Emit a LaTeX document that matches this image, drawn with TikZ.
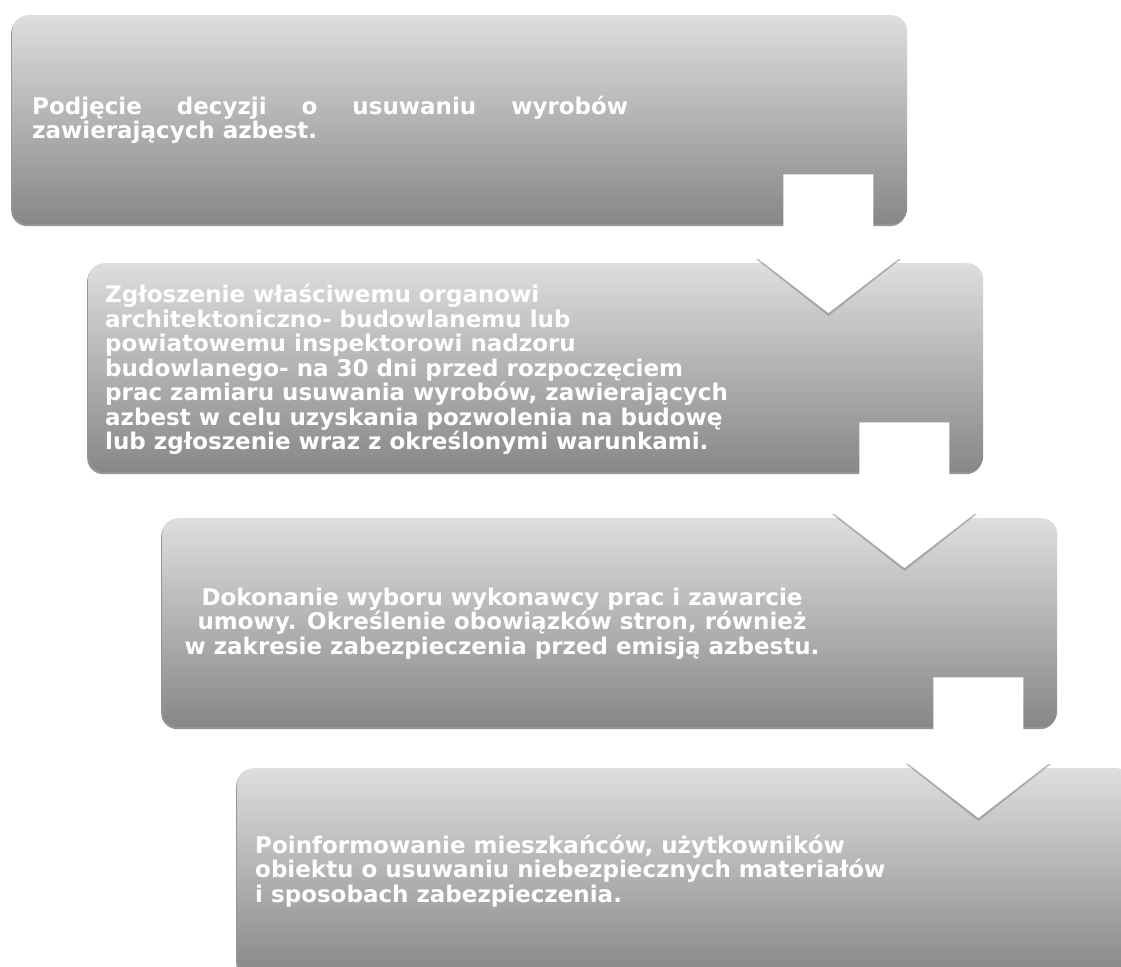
\documentclass[tikz,border=0pt]{standalone}
\usepackage{fontspec}
\setmainfont{DejaVu Sans}
\usetikzlibrary{calc,shadows}
\tikzset{
  stepbox/.style={rounded corners=16pt, top color=black!13, bottom color=black!47,
    minimum width=895pt, minimum height=209pt, anchor=north west, inner sep=0pt,
    draw=none, drop shadow={shadow xshift=-1pt, shadow yshift=-2pt, fill=black!75, opacity=0.55}},
  steptext/.style={text=white, font=\bfseries\fontsize{23}{24.5}\selectfont,
    inner sep=0pt, align=left, anchor=west},
  arrowshade/.style={fill=black!45, opacity=0.6},
  arrowbody/.style={fill=white},
}
\newcommand\steparrow[2]{%
  \coordinate (#1-ax) at ($(#1.south east)+(-79,0)$);
  \coordinate (#1-ch) at ($(#1-ax |- #2.north)+(0,-6)$);
  \fill[arrowshade] ($(#1-ch)+(-72.5,2)$) -- ($(#1-ch)+(0,59)$) -- ($(#1-ch)+(72.5,2)$) -- cycle;
  \fill[arrowbody] ($(#1-ax)+(-45,-50)$) -- ($(#1-ax)+(45,-50)$) -- ($(#1-ch)+(45,0)$)
    -- ($(#1-ch)+(72.5,0)$) -- ($(#1-ch)+(0,56)$) -- ($(#1-ch)+(-72.5,0)$)
    -- ($(#1-ch)+(-45,0)$) -- cycle;
}
\begin{document}
\begin{tikzpicture}[x=1pt,y=-1pt]
\clip (0,0) rectangle (1121,966);
\fill[white] (0,0) rectangle (1121,966);
\node[stepbox] (b1) at (12,15) {};
\node[stepbox] (b2) at (88,263) {};
\node[stepbox] (b3) at (162,518) {};
\node[stepbox] (b4) at (237,768) {};
\steparrow{b1}{b2}
\steparrow{b2}{b3}
\steparrow{b3}{b4}
\node[steptext] (t1) at ($(b1.west)+(20,0)$)
  {\makebox[596pt][s]{Podjęcie decyzji o usuwaniu wyrobów}\\zawierających azbest.};
\node[steptext] (t2) at ($(b2.west)+(17,2)$)
  {Zgłoszenie właściwemu organowi\\
   architektoniczno- budowlanemu lub\\
   powiatowemu inspektorowi nadzoru\\
   budowlanego- na 30 dni przed rozpoczęciem\\
   prac zamiaru usuwania wyrobów, zawierających\\
   azbest w celu uzyskania pozwolenia na budowę\\
   lub zgłoszenie wraz z określonymi warunkami.};
\node[steptext, align=center, anchor=center] (t3) at ($(b3.west)+(340,1)$)
  {Dokonanie wyboru wykonawcy prac i zawarcie\\
   umowy. Określenie obowiązków stron, również\\
   w zakresie zabezpieczenia przed emisją azbestu.};
\node[steptext] (t4) at ($(b4.west)+(18,-2)$)
  {Poinformowanie mieszkańców, użytkowników\\
   obiektu o usuwaniu niebezpiecznych materiałów\\
   i sposobach zabezpieczenia.};
\end{tikzpicture}
\end{document}
